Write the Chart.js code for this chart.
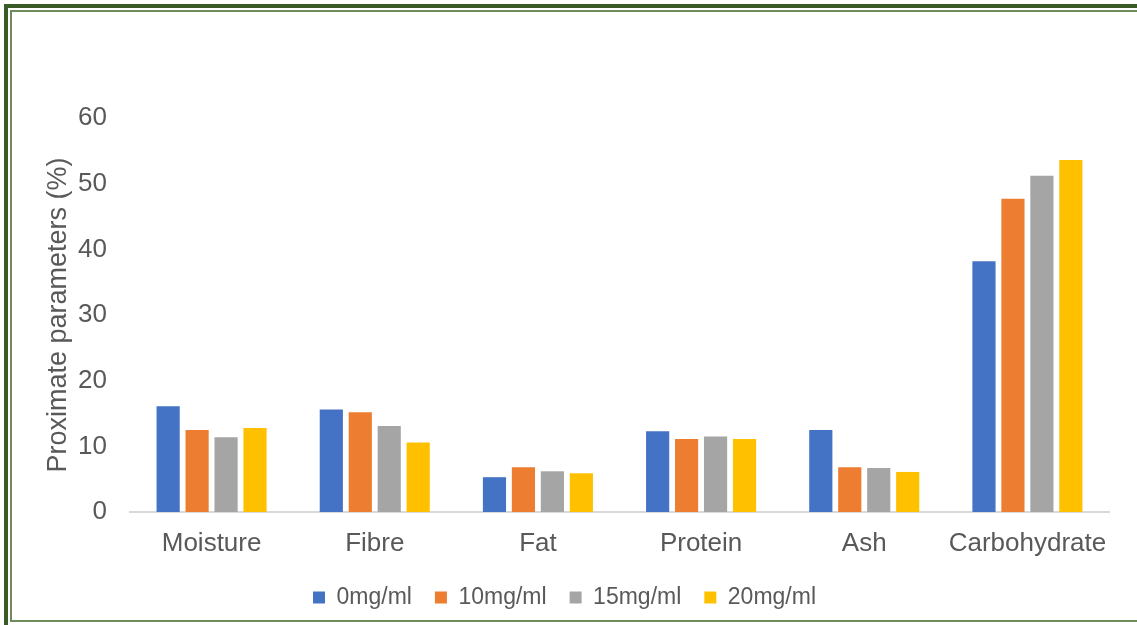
<!DOCTYPE html>
<html>
<head>
<meta charset="utf-8">
<script src="https://cdn.jsdelivr.net/npm/chart.js@4"></script>
<style>
    body { margin: 0; background: #fff; overflow: hidden; }
    #wrap { position: absolute; left: 0; top: 0; width: 1137px; height: 625px; }
    #frame { position: absolute; left: 4px; top: 4px; width: 1160px; height: 630px;
             border: 4px solid #3a5a26; box-sizing: border-box; pointer-events: none; }
    #frame2 { position: absolute; left: 10px; top: 10px; width: 1150px; height: 612px;
              border: 2px solid #6f8a5c; box-sizing: border-box; pointer-events: none; }
</style>
</head>
<body>
<div id="wrap">
    <canvas id="chart" width="1137" height="625"></canvas>
</div>
<div id="frame"></div>
<div id="frame2"></div>
<script>
// Data
const categories = ['Moisture', 'Fibre', 'Fat', 'Protein', 'Ash', 'Carbohydrate'];
const seriesNames = ['0mg/ml', '10mg/ml', '15mg/ml', '20mg/ml'];
const dose0 = [16.1, 15.6, 5.3, 12.3, 12.5, 38.2];
const dose10 = [12.5, 15.2, 6.8, 11.1, 6.8, 47.7];
const dose15 = [11.4, 13.1, 6.2, 11.5, 6.7, 51.2];
const dose20 = [12.8, 10.6, 5.9, 11.1, 6.1, 53.6];
const colors = ['#4472c4', '#ed7d31', '#a5a5a5', '#ffc000'];
const yTicks = [0, 10, 20, 30, 40, 50, 60];

const allValues = [dose0, dose10, dose15, dose20];
const textColor = '#595959';
const fontFamily = 'Liberation Sans';

// nudge the legend a bit left, like the original
const legendShift = {
    id: 'legendShift',
    afterLayout(chart) {
        chart.legend.left -= 11;
        chart.legend.right -= 11;
    }
};

const ctx = document.getElementById('chart').getContext('2d');
new Chart(ctx, {
    type: 'bar',
    data: {
        labels: categories,
        datasets: seriesNames.map((name, i) => ({
            label: name,
            data: allValues[i],
            backgroundColor: colors[i],
            borderWidth: 0,
            barPercentage: 0.8,
            categoryPercentage: 0.71
        }))
    },
    options: {
        responsive: false,
        animation: false,
        layout: { padding: { left: 42, right: 28, top: 118, bottom: 6 } },
        plugins: {
            tooltip: { enabled: false },
            legend: {
                position: 'bottom',
                labels: {
                    color: textColor,
                    font: { family: fontFamily, size: 23 },
                    boxWidth: 12,
                    boxHeight: 12,
                    padding: 23
                }
            }
        },
        scales: {
            x: {
                afterFit: axis => { axis.height = 51; },
                grid: { display: false, drawTicks: false },
                border: { color: '#d9d9d9', width: 2 },
                ticks: {
                    color: textColor,
                    font: { family: fontFamily, size: 26 },
                    padding: 16,
                    maxRotation: 0,
                    autoSkip: false
                }
            },
            y: {
                min: 0,
                max: 60,
                afterBuildTicks: axis => { axis.ticks = yTicks.map(v => ({ value: v })); },
                afterFit: axis => { axis.width = 88; },
                grid: { display: false, drawTicks: false },
                border: { display: false },
                ticks: {
                    color: textColor,
                    font: { family: fontFamily, size: 26 },
                    padding: 23
                },
                title: {
                    display: true,
                    text: 'Proximate parameters (%)',
                    color: textColor,
                    font: { family: fontFamily, size: 27 },
                    padding: { top: 0, bottom: 6 }
                }
            }
        }
    },
    plugins: [legendShift]
});
</script>
</body>
</html>
